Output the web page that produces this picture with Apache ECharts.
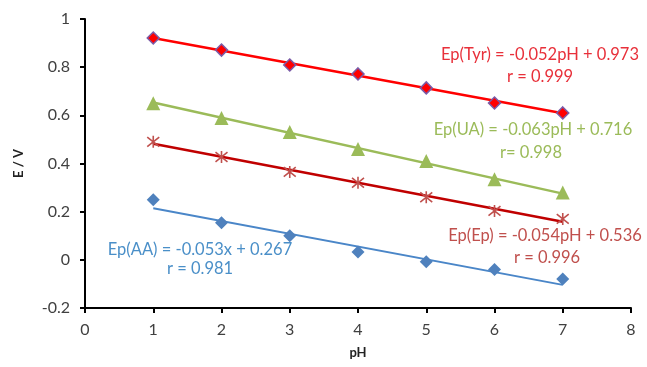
<!DOCTYPE html>
<html><head><meta charset="utf-8">
<script src="https://cdn.jsdelivr.net/npm/echarts@6/dist/echarts.min.js"></script>
<style>html,body{margin:0;padding:0;background:#fff}#c{width:647px;height:367px}</style>
</head><body><div id="c"></div>
<script>
const pH = [1, 2, 3, 4, 5, 6, 7];
const tyr = [0.921, 0.871, 0.809, 0.772, 0.714, 0.651, 0.610];
const ua  = [0.650, 0.589, 0.531, 0.460, 0.410, 0.335, 0.280];
const ep  = [0.490, 0.427, 0.365, 0.320, 0.260, 0.203, 0.170];
const aa  = [0.249, 0.154, 0.100, 0.033, -0.008, -0.040, -0.080];
const trendX = [1, 7];
const trendTyr = [0.921, 0.609];
const trendUA  = [0.653, 0.275];
const trendEp  = [0.482, 0.158];
const trendAA  = [0.214, -0.104];
const xTicks = [0, 1, 2, 3, 4, 5, 6, 7, 8];
const yTicks = [-0.2, 0, 0.2, 0.4, 0.6, 0.8, 1];

const pts = (ys) => pH.map((x, i) => [x, ys[i]]);
const tr = (ys) => trendX.map((x, i) => [x, ys[i]]);
const font = 'Lato';
const chart = echarts.init(document.getElementById('c'));
const star = 'path://M0,-10 L0,10 M-8,-8 L8,8 M-8,8 L8,-8';
const lineS = (d, color, w) => ({type: 'line', data: tr(d), showSymbol: false, symbol: 'none',
  lineStyle: {color, width: w}, z: 2, silent: true});
const scat = (d, symbol, size, color, border, bw) => ({type: 'scatter', data: pts(d), symbol, symbolSize: size,
  itemStyle: {color, borderColor: border, borderWidth: bw, opacity: 1}, z: 3});
const txt = (x, y, s, color) => ({type: 'text', x, y, z: 10, style: {text: s, fill: color, font: '16.5px ' + font, textAlign: 'center', textVerticalAlign: 'middle'}});
chart.setOption({
  animation: false,
  grid: {left: 85, right: 16, top: 19, bottom: 59},
  xAxis: {type: 'value', min: 0, max: 8, interval: 1,
    name: 'pH', nameLocation: 'middle', nameGap: 38,
    nameTextStyle: {fontFamily: font, fontWeight: 'bold', fontSize: 13, color: '#222'},
    axisLine: {onZero: false, lineStyle: {color: '#000', width: 2}},
    axisTick: {show: true, length: 5, lineStyle: {color: '#000', width: 2}},
    axisLabel: {fontFamily: font, fontSize: 16, color: '#404040', margin: 14},
    splitLine: {show: false}},
  yAxis: {type: 'value', min: -0.2, max: 1, interval: 0.2,
    name: 'E / V', nameLocation: 'middle', nameGap: 60, nameRotate: 90,
    nameTextStyle: {fontFamily: font, fontWeight: 'bold', fontSize: 13, color: '#222'},
    axisLine: {show: true, lineStyle: {color: '#000', width: 2}},
    axisTick: {show: true, length: 5, lineStyle: {color: '#000', width: 2}},
    axisLabel: {fontFamily: font, fontSize: 16, color: '#404040', margin: 15,
      formatter: v => String(Math.round(v * 10) / 10)},
    splitLine: {show: false}},
  series: [
    lineS(trendTyr, '#FF0000', 2.5),
    lineS(trendUA, '#9BBB59', 2.5),
    lineS(trendEp, '#C00000', 2.5),
    lineS(trendAA, '#4A86C8', 2),
    scat(tyr, 'diamond', 12, '#FF0000', '#7A5CA8', 1.5),
    scat(ua, 'triangle', 14, '#9BBB59', '#9BBB59', 0),
    scat(ep, star, 12, 'transparent', '#C0504D', 1.6),
    scat(aa, 'diamond', 13, '#4F81BD', '#4F81BD', 0)
  ],
  graphic: [
    txt(540, 55, 'Ep(Tyr) = -0.052pH + 0.973', '#E8303A'),
    txt(540, 77, 'r = 0.999', '#E8303A'),
    txt(533, 130, 'Ep(UA) = -0.063pH + 0.716', '#9BBB59'),
    txt(531, 153, 'r= 0.998', '#9BBB59'),
    txt(545, 236, 'Ep(Ep) = -0.054pH + 0.536', '#C0504D'),
    txt(547, 258, 'r = 0.996', '#C0504D'),
    txt(200, 250, 'Ep(AA) = -0.053x + 0.267', '#4A8FC8'),
    txt(200, 269, 'r = 0.981', '#4A8FC8')
  ]
});
</script></body></html>
